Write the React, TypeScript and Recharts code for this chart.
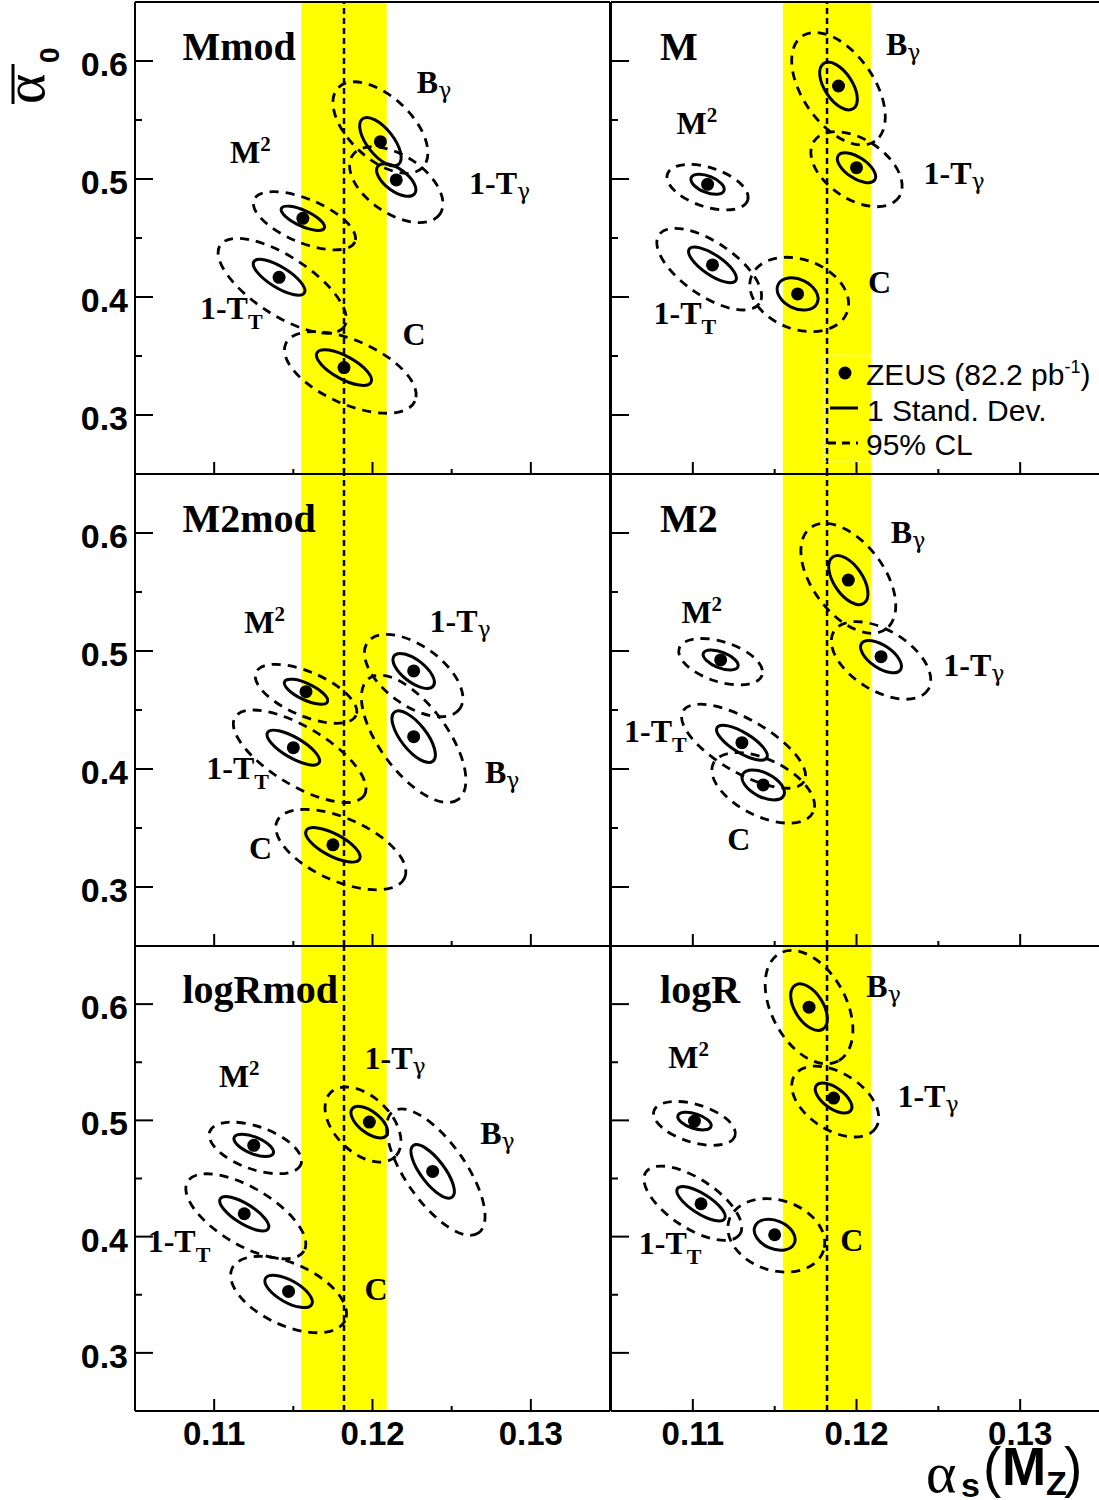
import React from "react";
import {
  ScatterChart,
  Scatter,
  XAxis,
  YAxis,
  ReferenceArea,
  ReferenceLine,
  Legend,
} from "recharts";

const SANS = "'Liberation Sans', Arial, Helvetica, sans-serif";
const SERIF = "'Liberation Serif', 'Times New Roman', serif";
const GREEK = "'DejaVu Serif', serif";

// axes
const X_DOMAIN: [number, number] = [0.105, 0.135];
const Y_DOMAIN: [number, number] = [0.25, 0.65];
const X_TICKS = [0.11, 0.115, 0.12, 0.125, 0.13];
const X_MAJOR = [0.11, 0.12, 0.13];
const Y_TICKS = [0.3, 0.35, 0.4, 0.45, 0.5, 0.55, 0.6];
const Y_MAJOR = [0.3, 0.4, 0.5, 0.6];

// world average alpha_s(Mz) band
const AS_WORLD = 0.1182;
const AS_WORLD_ERR = 0.0027;

// fit results, one row per observable:
// [obs, as, a0, sigma_as, sigma_a0, rho,  as95, a095, half_as95, half_a095, rho95]
type Row = [string, number, number, number, number, number, number, number, number, number, number];

const FITS_MMOD: Row[] = [
  ["Bg", 0.1205, 0.5316, 0.00131, 0.0205, -0.65, 0.1205, 0.5436, 0.0030, 0.0388, -0.55],
  ["1-Tg", 0.1215, 0.4992, 0.00124, 0.0138, -0.6, 0.1215, 0.4952, 0.00295, 0.0322, -0.5],
  ["M2", 0.1156, 0.4667, 0.00137, 0.0103, -0.71, 0.1157, 0.4646, 0.00323, 0.0247, -0.6],
  ["1-TT", 0.1141, 0.4167, 0.00163, 0.0152, -0.75, 0.1143, 0.4095, 0.00405, 0.0402, -0.7],
  ["C", 0.1182, 0.3402, 0.00174, 0.0151, -0.7, 0.1186, 0.3361, 0.00416, 0.0346, -0.55],
];

const FITS_M: Row[] = [
  ["Bg", 0.1189, 0.5788, 0.00115, 0.0202, -0.55, 0.1189, 0.5765, 0.00286, 0.0477, -0.5],
  ["1-Tg", 0.12, 0.5096, 0.00117, 0.0127, -0.6, 0.12, 0.5083, 0.00279, 0.0318, -0.45],
  ["M2", 0.1109, 0.4955, 0.00102, 0.0085, -0.5, 0.1109, 0.4931, 0.00248, 0.0193, -0.45],
  ["1-TT", 0.1112, 0.4272, 0.00146, 0.0151, -0.75, 0.111, 0.4236, 0.0032, 0.0346, -0.65],
  ["C", 0.1164, 0.4026, 0.00125, 0.0137, -0.3, 0.1165, 0.4022, 0.00302, 0.0315, -0.25],
];

const FITS_M2MOD: Row[] = [
  ["M2", 0.1158, 0.4655, 0.00137, 0.0106, -0.7, 0.1158, 0.4637, 0.00321, 0.025, -0.6],
  ["1-Tg", 0.1226, 0.4831, 0.00131, 0.0148, -0.65, 0.1226, 0.4792, 0.00311, 0.0349, -0.55],
  ["Bg", 0.1226, 0.4274, 0.00137, 0.0219, -0.7, 0.1226, 0.4256, 0.0033, 0.054, -0.65],
  ["1-TT", 0.115, 0.4181, 0.00166, 0.0148, -0.75, 0.1154, 0.4108, 0.00419, 0.0392, -0.7],
  ["C", 0.1175, 0.3357, 0.00172, 0.0146, -0.7, 0.118, 0.3317, 0.00411, 0.0341, -0.55],
];

const FITS_M2: Row[] = [
  ["Bg", 0.1195, 0.5601, 0.0012, 0.0208, -0.55, 0.1195, 0.5616, 0.0029, 0.0466, -0.5],
  ["1-Tg", 0.1215, 0.4952, 0.00125, 0.0137, -0.6, 0.1215, 0.492, 0.00304, 0.0329, -0.5],
  ["M2", 0.1117, 0.4924, 0.00107, 0.0085, -0.55, 0.1117, 0.4909, 0.00256, 0.0197, -0.45],
  ["1-TT", 0.113, 0.4223, 0.00155, 0.0148, -0.75, 0.1131, 0.4193, 0.00379, 0.0356, -0.7],
  ["C", 0.1143, 0.3865, 0.0013, 0.0127, -0.5, 0.1143, 0.384, 0.00314, 0.0299, -0.5],
];

const FITS_LOGRMOD: Row[] = [
  ["1-Tg", 0.1198, 0.4985, 0.00116, 0.0136, -0.6, 0.1194, 0.4964, 0.0024, 0.0323, -0.45],
  ["Bg", 0.1238, 0.4561, 0.00137, 0.023, -0.75, 0.124, 0.4555, 0.00311, 0.0544, -0.7],
  ["M2", 0.1125, 0.4785, 0.00125, 0.0096, -0.6, 0.1126, 0.4763, 0.00292, 0.0222, -0.5],
  ["1-TT", 0.1119, 0.4197, 0.00155, 0.0148, -0.75, 0.112, 0.4175, 0.00379, 0.0366, -0.65],
  ["C", 0.1147, 0.3529, 0.0015, 0.0139, -0.65, 0.1147, 0.3502, 0.00366, 0.0329, -0.5],
];

const FITS_LOGR: Row[] = [
  ["Bg", 0.1171, 0.5974, 0.00112, 0.02, -0.5, 0.1171, 0.5974, 0.00268, 0.0488, -0.4],
  ["1-Tg", 0.1186, 0.5192, 0.00112, 0.0129, -0.6, 0.1187, 0.5162, 0.00266, 0.0305, -0.45],
  ["M2", 0.1101, 0.4994, 0.00102, 0.0076, -0.5, 0.1101, 0.4974, 0.0025, 0.0189, -0.45],
  ["1-TT", 0.1105, 0.4283, 0.00148, 0.0148, -0.75, 0.11, 0.4287, 0.00299, 0.032, -0.65],
  ["C", 0.115, 0.4016, 0.00125, 0.0133, -0.3, 0.1151, 0.4011, 0.00296, 0.0316, -0.2],
];

// where the observable names sit (alpha_s, alpha_0 of the text baseline start)
type LabelRow = [string, number, number];

const LABELS_MMOD: LabelRow[] = [
  ["Bg", 0.1228, 0.5726], ["M2", 0.111, 0.5133], ["1-Tg", 0.1261, 0.487],
  ["1-TT", 0.1091, 0.3812], ["C", 0.1219, 0.3594],
];
const LABELS_M: LabelRow[] = [
  ["Bg", 0.1218, 0.605], ["M2", 0.109, 0.5379], ["1-Tg", 0.1241, 0.4955],
  ["1-TT", 0.1076, 0.3772], ["C", 0.1207, 0.4032],
];
const LABELS_M2MOD: LabelRow[] = [
  ["M2", 0.1119, 0.515], ["1-Tg", 0.1236, 0.5163], ["1-TT", 0.1095, 0.3913],
  ["Bg", 0.1271, 0.3884], ["C", 0.1122, 0.3236],
];
const LABELS_M2: LabelRow[] = [
  ["Bg", 0.1221, 0.5912], ["M2", 0.1093, 0.524], ["1-Tg", 0.1253, 0.4788],
  ["1-TT", 0.1058, 0.4232], ["C", 0.1121, 0.3314],
];
const LABELS_LOGRMOD: LabelRow[] = [
  ["M2", 0.1103, 0.5286], ["1-Tg", 0.1195, 0.5444], ["Bg", 0.1268, 0.4799],
  ["1-TT", 0.1058, 0.3867], ["C", 0.1195, 0.3452],
];
const LABELS_LOGR: LabelRow[] = [
  ["Bg", 0.1206, 0.606], ["M2", 0.1085, 0.545], ["1-Tg", 0.1225, 0.5114],
  ["1-TT", 0.1067, 0.3853], ["C", 0.119, 0.3873],
];

const PANEL_NAMES = ["Mmod", "M", "M2mod", "M2", "logRmod", "logR"];
const PANEL_FITS = [FITS_MMOD, FITS_M, FITS_M2MOD, FITS_M2, FITS_LOGRMOD, FITS_LOGR];
const PANEL_LABELS = [LABELS_MMOD, LABELS_M, LABELS_M2MOD, LABELS_M2, LABELS_LOGRMOD, LABELS_LOGR];
const TITLE_POS = { x: 0.108, y: 0.601 };

// page layout (plot frames)
const COL_LEFT = [135, 611];
const COL_WIDTH = [475, 491];
const ROW_TOP = [2, 474, 946];
const ROW_HEIGHT = [472, 472, 465];

const LABEL_PARTS: Record<string, { base: string; sub?: string; sup?: string; greek?: boolean }> = {
  Bg: { base: "B", sub: "γ", greek: true },
  "1-Tg": { base: "1-T", sub: "γ", greek: true },
  M2: { base: "M", sup: "2" },
  "1-TT": { base: "1-T", sub: "T" },
  C: { base: "C" },
};

const isMajor = (v: number, list: number[]) => list.some((m) => Math.abs(m - v) < 1e-6);

// contour of a 2d gaussian (bbox half widths in px + correlation) -> svg ellipse
function ellipseAxes(sxPx: number, syPx: number, rho: number) {
  const a2 = sxPx * sxPx;
  const b2 = syPx * syPx;
  const c = -rho * sxPx * syPx; // screen y points down
  const mean = (a2 + b2) / 2;
  const d = Math.sqrt(((a2 - b2) / 2) ** 2 + c * c);
  const theta = 0.5 * Math.atan2(2 * c, a2 - b2);
  return {
    rx: Math.sqrt(mean + d),
    ry: Math.sqrt(Math.max(mean - d, 0.01)),
    deg: (theta * 180) / Math.PI,
  };
}

const xTick = (side: "bottom" | "top", withLabel: boolean) => (props: any) => {
  const { x, y, payload } = props;
  const major = isMajor(payload.value, X_MAJOR);
  const len = major ? 12 : 5;
  const dir = side === "bottom" ? -1 : 1;
  return (
    <g>
      <line x1={x} x2={x} y1={y} y2={y + dir * len} stroke="#000" strokeWidth={2} />
      {withLabel && major && (
        <text x={x} y={y + 34} textAnchor="middle" fontFamily={SANS} fontWeight="bold" fontSize={33} fill="#000">
          {payload.value.toFixed(2)}
        </text>
      )}
    </g>
  );
};

const yTick = (side: "left" | "right", withLabel: boolean) => (props: any) => {
  const { x, y, payload } = props;
  const major = isMajor(payload.value, Y_MAJOR);
  const len = major ? 18 : 7;
  const dir = side === "left" ? 1 : -1;
  return (
    <g>
      <line x1={x} x2={x + dir * len} y1={y} y2={y} stroke="#000" strokeWidth={2} />
      {withLabel && major && (
        <text x={x - 7} y={y + 15} textAnchor="end" fontFamily={SANS} fontWeight="bold" fontSize={34} fill="#000">
          {payload.value.toFixed(1)}
        </text>
      )}
    </g>
  );
};

const LegendBox = () => (
  <svg width={280} height={110} style={{ display: "block", overflow: "visible" }}>
    <rect x={0.5} y={0.5} width={276} height={106} fill="none" stroke="#fff" strokeWidth={1.5} strokeDasharray="2 2" />
    <circle cx={21} cy={18} r={6.5} fill="#000" />
    <text x={42} y={30} fontFamily={SANS} fontSize={30} fill="#000">
      ZEUS (82.2 pb<tspan dy={-12} fontSize={18}>-1</tspan>
      <tspan dy={12}>)</tspan>
    </text>
    <line x1={6} x2={34} y1={53} y2={53} stroke="#000" strokeWidth={3} />
    <text x={43} y={66} fontFamily={SANS} fontSize={30} fill="#000">1 Stand. Dev.</text>
    <line x1={4} x2={34} y1={88} y2={88} stroke="#000" strokeWidth={3} strokeDasharray="8 6" />
    <text x={42} y={100} fontFamily={SANS} fontSize={30} fill="#000">95% CL</text>
  </svg>
);

function Panel({ index }: { index: number }) {
  const col = index % 2;
  const row = Math.floor(index / 2);
  const width = COL_WIDTH[col];
  const height = ROW_HEIGHT[row];
  const kx = width / (X_DOMAIN[1] - X_DOMAIN[0]);
  const ky = height / (Y_DOMAIN[1] - Y_DOMAIN[0]);
  const fits = PANEL_FITS[index];

  const contour95 = fits.map((r) => ({ x: r[6], y: r[7], sx: r[8], sy: r[9], rho: r[10] }));
  const contour1 = fits.map((r) => ({ x: r[1], y: r[2], sx: r[3], sy: r[4], rho: r[5] }));
  const labels = PANEL_LABELS[index].map((l) => ({ x: l[1], y: l[2], obs: l[0] }));
  const title = [{ x: TITLE_POS.x, y: TITLE_POS.y, text: PANEL_NAMES[index] }];

  const ellipseShape = (dashed: boolean) => (props: any) => {
    const { cx, cy, payload } = props;
    const e = ellipseAxes(payload.sx * kx, payload.sy * ky, payload.rho);
    return (
      <ellipse
        cx={cx}
        cy={cy}
        rx={e.rx}
        ry={e.ry}
        transform={`rotate(${e.deg} ${cx} ${cy})`}
        fill="none"
        stroke="#000"
        strokeWidth={dashed ? 2.8 : 3}
        strokeDasharray={dashed ? "9 7" : undefined}
      />
    );
  };

  const dotShape = (props: any) => <circle cx={props.cx} cy={props.cy} r={6.5} fill="#000" />;

  const labelShape = (props: any) => {
    const p = LABEL_PARTS[props.payload.obs];
    return (
      <text x={props.cx} y={props.cy} fontFamily={SERIF} fontWeight="bold" fontSize={32} fill="#000">
        {p.base}
        {p.sub && p.greek && (
          <tspan dy={5} fontSize={22} fontWeight="normal" fontFamily={GREEK}>{p.sub}</tspan>
        )}
        {p.sub && !p.greek && (
          <tspan dy={10} fontSize={22}>{p.sub}</tspan>
        )}
        {p.sup && (
          <tspan dy={-12} fontSize={21}>{p.sup}</tspan>
        )}
      </text>
    );
  };

  const titleShape = (props: any) => (
    <text x={props.cx} y={props.cy} fontFamily={SERIF} fontWeight="bold" fontSize={40} fill="#000">
      {props.payload.text}
    </text>
  );

  const axisLine = { stroke: "#000", strokeWidth: 2 };
  const ids = { xAxisId: "b", yAxisId: "l" };

  // 1px axis bands on every side so the axes get drawn; the plot area is the frame
  return (
    <div style={{ position: "absolute", left: COL_LEFT[col] - 1, top: ROW_TOP[row] - 1 }}>
      <ScatterChart width={width + 2} height={height + 2} margin={{ top: 0, right: 0, bottom: 0, left: 0 }}>
        <XAxis
          xAxisId="b" type="number" dataKey="x" orientation="bottom" domain={X_DOMAIN} ticks={X_TICKS}
          interval={0} height={1} tickSize={0} tickMargin={0} tickLine={false} axisLine={axisLine}
          tick={xTick("bottom", row === 2)}
        />
        <XAxis
          xAxisId="t" type="number" dataKey="x" orientation="top" domain={X_DOMAIN} ticks={X_TICKS}
          interval={0} height={1} tickSize={0} tickMargin={0} tickLine={false} axisLine={axisLine}
          tick={xTick("top", false)}
        />
        <YAxis
          yAxisId="l" type="number" dataKey="y" orientation="left" domain={Y_DOMAIN} ticks={Y_TICKS}
          interval={0} width={1} tickSize={0} tickMargin={0} tickLine={false} axisLine={axisLine}
          tick={yTick("left", col === 0)}
        />
        <YAxis
          yAxisId="r" type="number" dataKey="y" orientation="right" domain={Y_DOMAIN} ticks={Y_TICKS}
          interval={0} width={1} tickSize={0} tickMargin={0} tickLine={false} axisLine={axisLine}
          tick={yTick("right", false)}
        />
        <ReferenceArea
          {...ids}
          x1={AS_WORLD - AS_WORLD_ERR}
          x2={AS_WORLD + AS_WORLD_ERR}
          y1={Y_DOMAIN[0]}
          y2={Y_DOMAIN[1]}
          fill="#ffff00"
          fillOpacity={1}
          stroke="none"
        />
        <ReferenceLine {...ids} x={AS_WORLD} stroke="#000" strokeWidth={2.5} strokeDasharray="6 4" />
        <Scatter {...ids} data={contour95} shape={ellipseShape(true)} isAnimationActive={false} />
        <Scatter {...ids} data={contour1} shape={ellipseShape(false)} isAnimationActive={false} />
        <Scatter {...ids} data={contour1} shape={dotShape} isAnimationActive={false} />
        <Scatter {...ids} data={labels} shape={labelShape} isAnimationActive={false} />
        <Scatter {...ids} data={title} shape={titleShape} isAnimationActive={false} />
        {index === 1 && (
          <Legend
            layout="vertical"
            align="center"
            verticalAlign="middle"
            content={() => <LegendBox />}
            wrapperStyle={{ left: 214, top: 354, width: 280 }}
          />
        )}
      </ScatterChart>
    </div>
  );
}

export default function App() {
  return (
    <div
      style={{
        position: "absolute",
        left: 0,
        top: 0,
        width: 1099,
        height: 1500,
        background: "#fff",
        overflow: "hidden",
      }}
    >
      <style>{`.recharts-surface{overflow:visible}`}</style>
      {PANEL_NAMES.map((_, i) => (
        <Panel key={i} index={i} />
      ))}
      {/* axis titles */}
      <svg width={1099} height={1500} style={{ position: "absolute", left: 0, top: 0, pointerEvents: "none" }}>
        <g transform="translate(44,104) rotate(-90)">
          <text x={0} y={0} fontFamily={SERIF} fontSize={58} fill="#000">α</text>
          <line x1={0} x2={40} y1={-31} y2={-31} stroke="#000" strokeWidth={3} />
          <text x={41} y={15} fontFamily={SANS} fontWeight="bold" fontSize={28} fill="#000">0</text>
        </g>
        <text x={926} y={1492} fontFamily={SERIF} fontSize={58} fill="#000">α</text>
        <text x={961} y={1497} fontFamily={SANS} fontWeight="bold" fontSize={34} fill="#000">s</text>
        <text x={983} y={1486} fontFamily={SANS} fontSize={55} fill="#000">(</text>
        <text x={1002} y={1485} fontFamily={SANS} fontWeight="bold" fontSize={53} fill="#000">M</text>
        <text x={1046} y={1495} fontFamily={SANS} fontWeight="bold" fontSize={34} fill="#000">Z</text>
        <text x={1064} y={1486} fontFamily={SANS} fontSize={55} fill="#000">)</text>
      </svg>
    </div>
  );
}
